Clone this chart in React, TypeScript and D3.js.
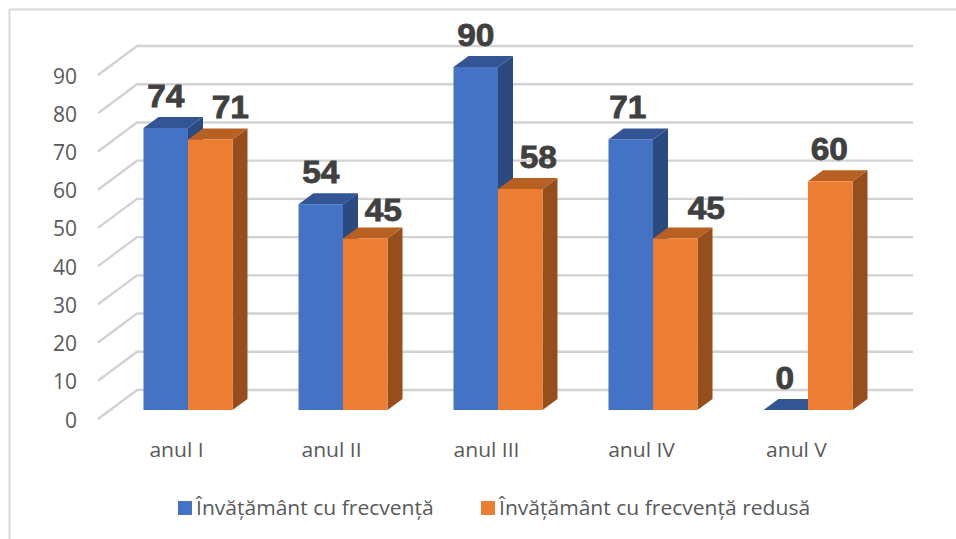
import React from "react";
import * as d3 from "d3";

const categories = ["anul I", "anul II", "anul III", "anul IV", "anul V"];
const seriesNames = ["Învățământ cu frecvență", "Învățământ cu frecvență redusă"];
const fullTime = [74, 54, 90, 71, 0];
const reduced = [71, 45, 58, 45, 60];
const tickValues = [0, 10, 20, 30, 40, 50, 60, 70, 80, 90];
const palette = [
  { front: "#4472C4", top: "#335593", side: "#2A4A80" },
  { front: "#ED7D31", top: "#B85F22", side: "#954E1C" },
];

const W = 956, H = 539;
const x0 = d3.scaleBand<string>().domain(categories).range([110.5, 885.5]);
const x1 = d3.scaleBand<string>().domain(["0", "1"]).range([33, 122]);
const yBar = d3.scaleLinear().domain([0, 90]).range([410, 67]);
const yBack = d3.scaleLinear().domain([0, 90]).range([390, 46]);
const yFront = d3.scaleLinear().domain([0, 90]).range([419, 75]);
const DX = 15, DY = 11;
const sans = "'Liberation Sans', Arial, sans-serif";
const soft = "'Open Sans', 'Noto Sans', sans-serif";

// manually dragged data labels in the source chart: shift from each bar's centre
const labelShift = [
  [[0, -21], [0, -21], [0, -21], [-3, -21], [-1, -21]],
  [[20, -21], [18, -18], [18, -21], [31, -20], [-1, -21]],
];

function poly(pts: number[][]) {
  return pts.map((p) => p.join(",")).join(" ");
}

function Bar({ cat, s, v }: { cat: string; s: number; v: number }) {
  const x = x0(cat)! + x1(String(s))!;
  const w = x1.bandwidth();
  const t = yBar(v), b = yBar(0);
  const c = palette[s];
  return (
    <g>
      {v > 0 && <polygon points={poly([[x + w, t], [x + w + DX, t - DY], [x + w + DX, b - DY], [x + w, b]])} fill={c.side} />}
      <polygon points={poly([[x, t], [x + DX, t - DY], [x + w + DX, t - DY], [x + w, t]])} fill={c.top} />
      {v > 0 && <rect x={x} y={t} width={w} height={b - t} fill={c.front} />}
    </g>
  );
}

function Stretched({ x, y, sx, anchor, children, ...rest }: any) {
  return (
    <text transform={`translate(${x},${y}) scale(${sx},1)`} textAnchor={anchor} {...rest}>
      {children}
    </text>
  );
}

export default function App() {
  const series = [fullTime, reduced];
  return (
    <svg width={W} height={H} style={{ position: "absolute", left: 0, top: 0, background: "#fff" }}>
      <polyline points={poly([[956, 9.5], [9.5, 9.5], [9.5, 539]])} fill="none" stroke="#D9D9D9" strokeWidth={2} />
      {tickValues.map((t) => (
        <g key={t}>
          <polyline
            points={poly([[98, yFront(t)], [137, yBack(t)], [913, yBack(t)]])}
            fill="none" stroke="#D2D2D2" strokeWidth={2.4}
          />
          <text x={77} y={yFront(t) + 8.5} textAnchor="end" fontFamily={soft} fontSize={21} fill="#595959">{t}</text>
        </g>
      ))}
      {categories.map((c, i) => (
        <g key={c}>
          <Bar cat={c} s={0} v={series[0][i]} />
          <Bar cat={c} s={1} v={series[1][i]} />
          <Stretched x={x0(c)! + 66} y={457} sx={1.08} anchor="middle" fontFamily={soft} fontSize={19.5} fill="#595959">{c}</Stretched>
        </g>
      ))}
      {categories.map((c, i) =>
        [0, 1].map((s) => (
          <Stretched
            key={c + s}
            x={x0(c)! + x1(String(s))! + x1.bandwidth() / 2 + labelShift[s][i][0]}
            y={yBar(series[s][i]) + labelShift[s][i][1]}
            sx={1.08}
            anchor="middle" fontFamily={sans} fontWeight={700} fontSize={31}
            stroke="#404040" strokeWidth={0.8} fill="#404040"
          >
            {series[s][i]}
          </Stretched>
        ))
      )}
      {seriesNames.map((n, i) => {
        const lx = i === 0 ? 178 : 481;
        return (
          <g key={n}>
            <rect x={lx} y={501} width={14} height={14} fill={palette[i].front} />
            <Stretched x={lx + 18} y={515} sx={1.08} anchor="start" fontFamily={soft} fontSize={19.5} fill="#595959">{n}</Stretched>
          </g>
        );
      })}
    </svg>
  );
}
